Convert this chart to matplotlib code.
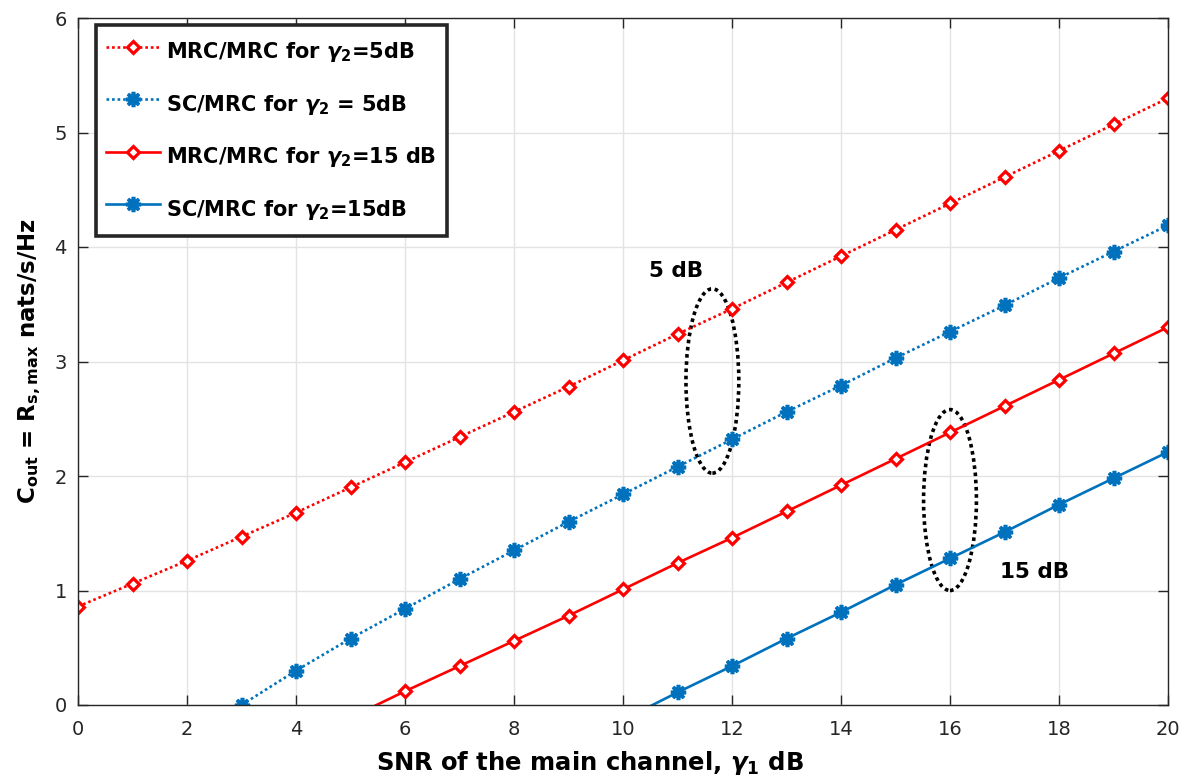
import matplotlib
matplotlib.use("Agg")
import matplotlib.pyplot as plt
from matplotlib.patches import Ellipse

plt.rcParams['font.family'] = ['DejaVu Sans']
plt.rcParams['mathtext.fontset'] = 'custom'
plt.rcParams['mathtext.rm'] = 'DejaVu Sans:bold'
plt.rcParams['mathtext.bf'] = 'DejaVu Sans:bold'
plt.rcParams['mathtext.it'] = 'DejaVu Sans:bold:italic'
plt.rcParams['mathtext.sf'] = 'DejaVu Sans:bold'

# ---- data ----
x_mrc5 = list(range(0, 21))
y_mrc5 = [0.86, 1.06, 1.26, 1.47, 1.68, 1.90, 2.12, 2.34, 2.56, 2.78, 3.01,
          3.24, 3.46, 3.69, 3.92, 4.15, 4.38, 4.61, 4.84, 5.07, 5.30]

x_sc5 = list(range(3, 21))
y_sc5 = [0.00, 0.30, 0.58, 0.84, 1.10, 1.35, 1.60, 1.84, 2.08, 2.32, 2.56,
         2.79, 3.03, 3.26, 3.49, 3.73, 3.96, 4.19]

x_mrc15 = list(range(5, 21))
y_mrc15 = [-0.11, 0.12, 0.34, 0.56, 0.78, 1.01, 1.24, 1.46, 1.69, 1.92, 2.15,
           2.38, 2.61, 2.84, 3.07, 3.30]

x_sc15 = list(range(10, 21))
y_sc15 = [-0.13, 0.11, 0.34, 0.58, 0.81, 1.05, 1.28, 1.51, 1.75, 1.98, 2.21]

labels = [r'MRC/MRC for $\gamma_2$=5dB',
          r'SC/MRC for $\gamma_2$ = 5dB',
          r'MRC/MRC for $\gamma_2$=15 dB',
          r'SC/MRC for $\gamma_2$=15dB']

xticks = list(range(0, 21, 2))
yticks = list(range(0, 7))

# annotation ellipses (center x, center y, width, height) and texts
ell_5 = (11.64, 2.83, 0.97, 1.61)
ell_15 = (16.0, 1.79, 0.97, 1.58)
txt_5 = (10.97, 3.79, '5 dB')
txt_15 = (17.55, 1.16, '15 dB')

red = (1, 0, 0)
blue = (0, 0.447, 0.741)

fig = plt.figure(figsize=(11.88, 7.76), dpi=100)
ax = fig.add_axes([78/1188, 71/776, 1090/1188, 687/776])

lw = 1.9
dot = (0, (1, 1.1))
ast = (8, 2, 0)
ax.plot(x_mrc5, y_mrc5, color=red, linestyle=dot, lw=lw, marker='D', ms=6,
        mfc='white', mec=red, mew=2.3, label=labels[0])
ax.plot(x_sc5, y_sc5, color=blue, linestyle=dot, lw=lw, marker=ast, ms=11,
        mec=blue, mew=2.6, label=labels[1])
ax.plot(x_mrc15, y_mrc15, color=red, linestyle='-', lw=lw, marker='D', ms=6,
        mfc='white', mec=red, mew=2.3, label=labels[2])
ax.plot(x_sc15, y_sc15, color=blue, linestyle='-', lw=lw, marker=ast, ms=11,
        mec=blue, mew=2.6, label=labels[3])

for (cx, cy, w, h) in (ell_5, ell_15):
    ax.add_patch(Ellipse((cx, cy), w, h, fill=False, edgecolor='black',
                         linestyle=(0, (1, 1)), lw=2.6))

for (tx, ty, s) in (txt_5, txt_15):
    ax.text(tx, ty, s, fontsize=15.5, fontweight='bold', ha='center', va='center')

ax.set_xlim(0, 20)
ax.set_ylim(0, 6)
ax.set_xticks(xticks)
ax.set_yticks(yticks)
ax.tick_params(direction='in', length=7, width=1, labelsize=14,
               top=True, right=True, colors='#262626')
ax.tick_params(axis='x', pad=11)
ax.tick_params(axis='y', pad=8)
ax.grid(True, color='#e3e3e3', lw=1)
ax.set_axisbelow(True)
for sp in ax.spines.values():
    sp.set_color('#262626')
    sp.set_linewidth(1)

ax.set_xlabel(r'SNR of the main channel, $\gamma_1$ dB', fontsize=17.5,
              fontweight='bold')
ax.xaxis.set_label_coords(0.47, -0.064)
ax.set_ylabel(r'C$_{\mathregular{out}}$ = R$_{\mathregular{s,max}}$ nats/s/Hz',
              fontsize=16.5, fontweight='bold', labelpad=8)

leg = ax.legend(loc='upper left', bbox_to_anchor=(0.0165, 0.99), borderaxespad=0,
                prop={'weight': 'bold', 'size': 15},
                numpoints=1, handlelength=2.55, handleheight=2.0,
                labelspacing=0.98, borderpad=0.5, handletextpad=0.33,
                fancybox=False, framealpha=1, edgecolor='#262626')
leg.get_frame().set_linewidth(2.6)

fig.savefig('out.png', dpi=100)
